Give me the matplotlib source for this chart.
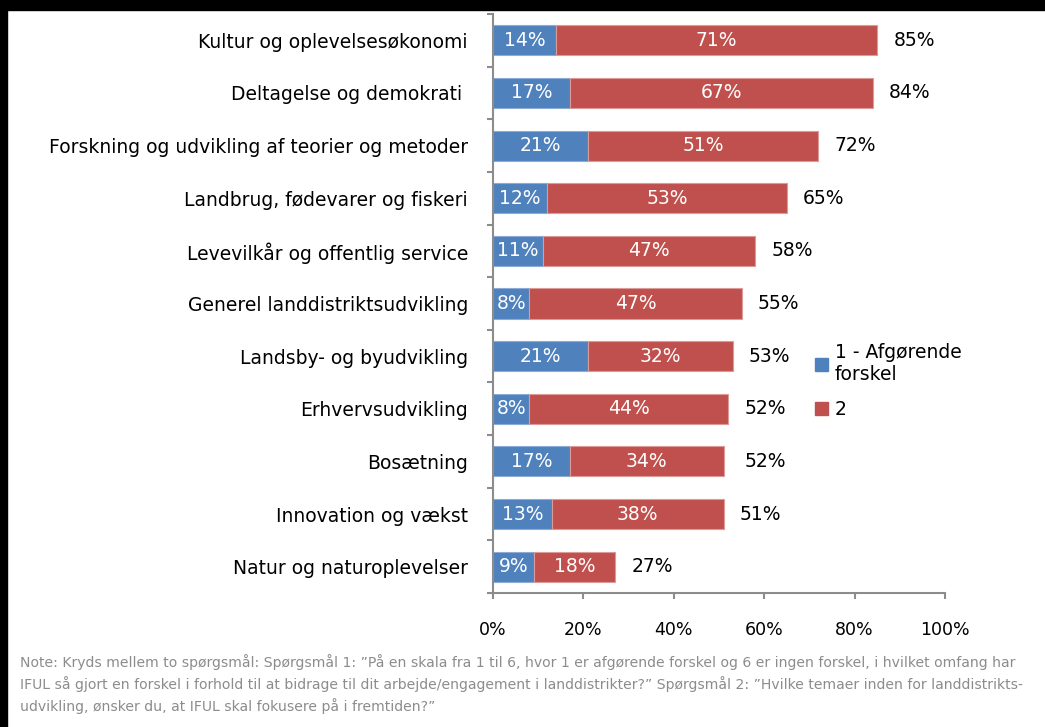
import matplotlib.pyplot as plt
import matplotlib.patches as mpatches
import numpy as np

categories = [
    "Kultur og oplevelsesøkonomi",
    "Deltagelse og demokrati ",
    "Forskning og udvikling af teorier og metoder",
    "Landbrug, fødevarer og fiskeri",
    "Levevilkår og offentlig service",
    "Generel landdistriktsudvikling",
    "Landsby- og byudvikling",
    "Erhvervsudvikling",
    "Bosætning",
    "Innovation og vækst",
    "Natur og naturoplevelser",
]
s1 = [14, 17, 21, 12, 11, 8, 21, 8, 17, 13, 9]
s2 = [71, 67, 51, 53, 47, 47, 32, 44, 34, 38, 18]
totals = [85, 84, 72, 65, 58, 55, 53, 52, 52, 51, 27]
xticks = [0, 20, 40, 60, 80, 100]
legend_labels = ["1 - Afgørende\nforskel", "2"]

blue = "#4F81BD"
red = "#C0504D"
gray = "#8c8c8c"

plt.rcParams['font.family'] = ['DejaVu Sans']

fig = plt.figure(figsize=(10.45, 7.27), dpi=100)
ax = fig.add_axes([493 / 1045, 1 - 593 / 727, 452 / 1045, 579 / 727])

y = np.arange(len(categories))
h = 0.57
ax.barh(y, s1, height=h, color=blue, edgecolor="#8eaad6", linewidth=0.8)
ax.barh(y, s2, left=s1, height=h, color=red, edgecolor="#dc9a98", linewidth=0.8)

for i in range(len(categories)):
    ax.text(s1[i] / 2, y[i], f"{s1[i]}%", color="white", ha="center", va="center", fontsize=13.5)
    ax.text(s1[i] + s2[i] / 2, y[i], f"{s2[i]}%", color="white", ha="center", va="center", fontsize=13.5)
    ax.text(totals[i] + 3.6, y[i], f"{totals[i]}%", color="black", ha="left", va="center", fontsize=13.5)

ax.set_xlim(0, 100)
ax.set_ylim(len(categories) - 0.5, -0.5)
ax.set_xticks(xticks)
ax.set_xticklabels([f"{t}%" for t in xticks], fontsize=12.5)
ax.set_yticks(y)
ax.set_yticklabels(categories, fontsize=13.5)
ax.set_yticks(np.arange(-0.5, len(categories)), minor=True)
ax.tick_params(axis="y", which="major", length=0, pad=18)
ax.tick_params(axis="y", which="minor", length=4.5, color=gray, width=1.5)
ax.tick_params(axis="x", length=4.5, color=gray, width=1.5, pad=16)

for side in ["top", "right"]:
    ax.spines[side].set_visible(False)
for side in ["left", "bottom"]:
    ax.spines[side].set_color(gray)
    ax.spines[side].set_linewidth(1.5)

handles = [mpatches.Patch(color=blue), mpatches.Patch(color=red)]
fig.legend(handles, legend_labels, loc="upper left", bbox_to_anchor=(798 / 1045, 1 - 326 / 727),
           frameon=False, fontsize=13.5, handlelength=0.7, handleheight=0.7, handletextpad=0.35,
           labelspacing=0.85)

fig.text(20 / 1045, 1 - 654 / 727,
         "Note: Kryds mellem to spørgsmål: Spørgsmål 1: \u201dPå en skala fra 1 til 6, hvor 1 er afgørende forskel og 6 er ingen forskel, i hvilket omfang har\n"
         "IFUL så gjort en forskel i forhold til at bidrage til dit arbejde/engagement i landdistrikter?\u201d Spørgsmål 2: \u201dHvilke temaer inden for landdistrikts-\n"
         "udvikling, ønsker du, at IFUL skal fokusere på i fremtiden?\u201d",
         color=gray, fontsize=10.1, va="top", ha="left", linespacing=1.45)

# black frame edges from the original screenshot
fig.patches.append(mpatches.Rectangle((0, 1 - 10 / 727), 1, 10 / 727, transform=fig.transFigure,
                                      color="black", zorder=10))
fig.patches.append(mpatches.Rectangle((0, 0), 7 / 1045, 1, transform=fig.transFigure,
                                      color="black", zorder=10))

fig.savefig("out.png", dpi=100)
